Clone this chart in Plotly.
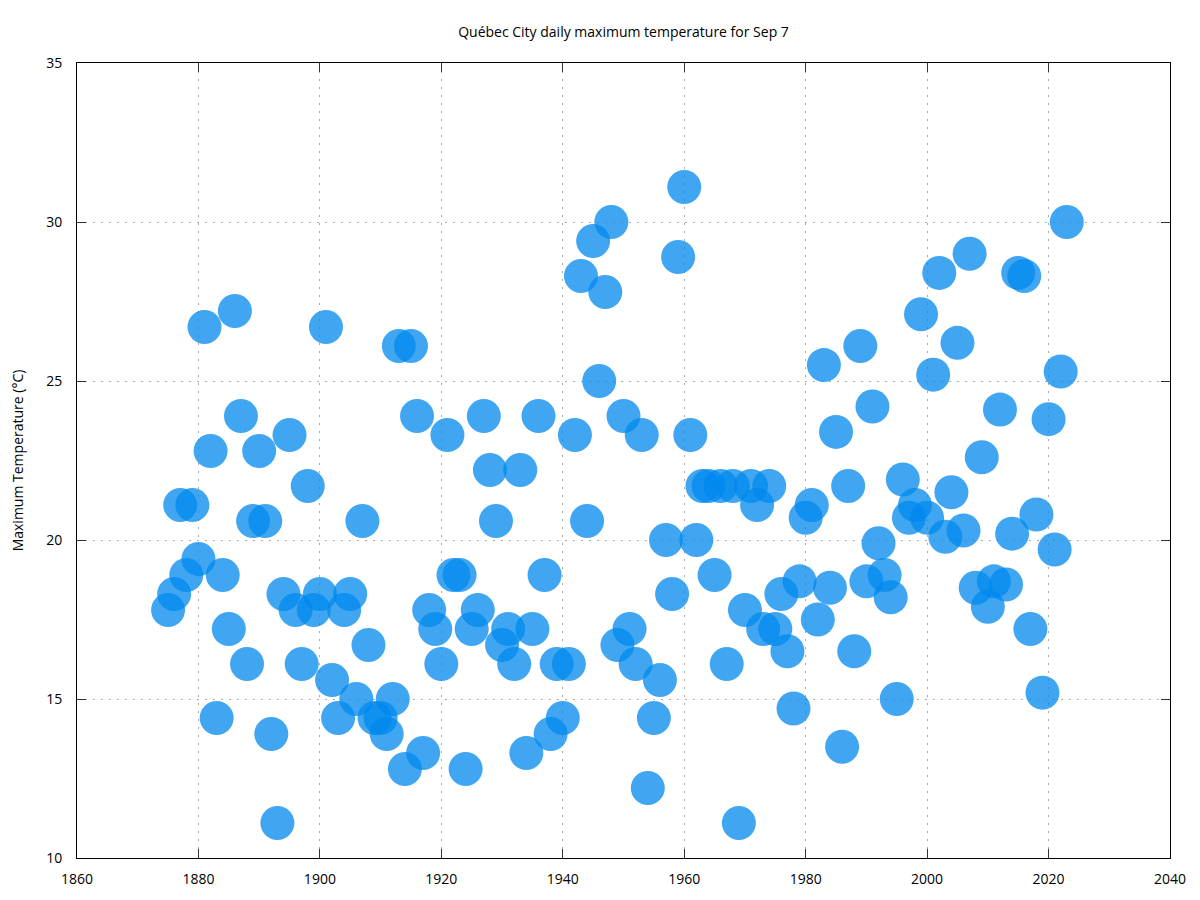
import plotly.graph_objects as go

# Year and daily max temperature for Sep 7
years = list(range(1875, 2024))
tmax = [
    17.8, 18.3, 21.1, 18.9, 21.1, 19.4, 26.7, 22.8, 14.4, 18.9,   # 1875-1884
    17.2, 27.2, 23.9, 16.1, 20.6, 22.8, 20.6, 13.9, 11.1, 18.3,   # 1885-1894
    23.3, 17.8, 16.1, 21.7, 17.8, 18.3, 26.7, 15.6, 14.4, 17.8,   # 1895-1904
    18.3, 15.0, 20.6, 16.7, 14.4, 14.4, 13.9, 15.0, 26.1, 12.8,   # 1905-1914
    26.1, 23.9, 13.3, 17.8, 17.2, 16.1, 23.3, 18.9, 18.9, 12.8,   # 1915-1924
    17.2, 17.8, 23.9, 22.2, 20.6, 16.7, 17.2, 16.1, 22.2, 13.3,   # 1925-1934
    17.2, 23.9, 18.9, 13.9, 16.1, 14.4, 16.1, 23.3, 28.3, 20.6,   # 1935-1944
    29.4, 25.0, 27.8, 30.0, 16.7, 23.9, 17.2, 16.1, 23.3, 12.2,   # 1945-1954
    14.4, 15.6, 20.0, 18.3, 28.9, 31.1, 23.3, 20.0, 21.7, 21.7,   # 1955-1964
    18.9, 21.7, 16.1, 21.7, 11.1, 17.8, 21.7, 21.1, 17.2, 21.7,   # 1965-1974
    17.2, 18.3, 16.5, 14.7, 18.7, 20.7, 21.1, 17.5, 25.5, 18.5,   # 1975-1984
    23.4, 13.5, 21.7, 16.5, 26.1, 18.7, 24.2, 19.9, 18.9, 18.2,   # 1985-1994
    15.0, 21.9, 20.7, 21.1, 27.1, 20.7, 25.2, 28.4, 20.1, 21.5,   # 1995-2004
    26.2, 20.3, 29.0, 18.5, 22.6, 17.9, 18.7, 24.1, 18.6, 20.2,   # 2005-2014
    28.4, 28.3, 17.2, 20.8, 15.2, 23.8, 19.7, 25.3, 30.0,         # 2015-2023
]

x_ticks = [1860, 1880, 1900, 1920, 1940, 1960, 1980, 2000, 2020, 2040]
y_ticks = [10, 15, 20, 25, 30, 35]

fig = go.Figure()

fig.add_trace(go.Scatter(
    x=years,
    y=tmax,
    mode='markers',
    marker=dict(size=34, color='rgb(0,136,238)', opacity=0.75, line=dict(width=0)),
    hovertemplate='%{x}: %{y:.1f} °C<extra></extra>',
))

axis_style = dict(
    showline=True, linecolor='black', linewidth=1, mirror='ticks',
    ticks='inside', ticklen=9, tickcolor='#333', tickwidth=1,
    showgrid=True, gridcolor='#aaaaaa', griddash='2px,6px', gridwidth=1,
    zeroline=False, tickfont=dict(size=14, color='black'), automargin=False,
)

# page body adds an 8px margin, so the figure is sized 1192x892
fig.update_layout(
    width=1192, height=892,
    paper_bgcolor='white', plot_bgcolor='white',
    font=dict(family='Open Sans, Noto Sans, sans-serif', color='black'),
    title=dict(text='Québec City daily maximum temperature for Sep 7',
               x=0.5, xref='paper', xanchor='center', y=0.973, yanchor='middle',
               font=dict(size=14)),
    margin=dict(l=69, r=30, t=55, b=42),
    showlegend=False,
)

fig.update_xaxes(range=[1860, 2040], tickvals=x_ticks, ticklabelstandoff=8, **axis_style)
fig.update_yaxes(range=[10, 35], tickvals=y_ticks, ticklabelstandoff=11,
                 title=dict(text='Maximum Temperature (°C)', font=dict(size=14), standoff=21),
                 **axis_style)

fig.write_html('out.html')
